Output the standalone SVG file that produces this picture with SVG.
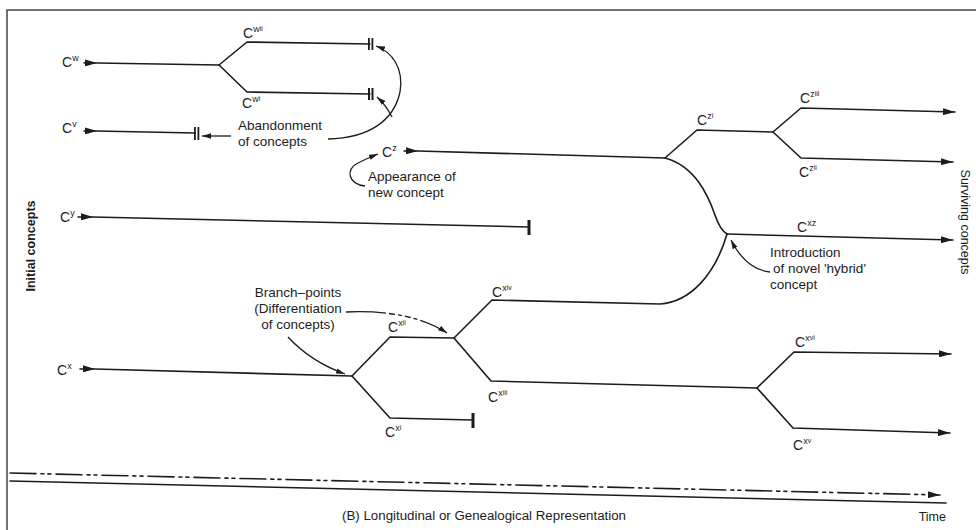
<svg xmlns="http://www.w3.org/2000/svg" width="976" height="530" viewBox="0 0 976 530">
<style>
.ln{fill:none;stroke:#1c1c1c;stroke-width:1.6;stroke-linejoin:round;stroke-linecap:round}
.thin{fill:none;stroke:#1c1c1c;stroke-width:1.3}
.lbl{font-family:"Liberation Sans",Arial,sans-serif;font-size:14px;fill:#1c1c1c}
.sup{font-size:9px}
.sup2{font-size:7px}
.ann{font-family:"Liberation Sans",Arial,sans-serif;font-size:13.5px;fill:#1c1c1c}
.axis{font-family:"Liberation Sans",Arial,sans-serif;font-size:12.5px;fill:#1c1c1c}
.bar{fill:#1c1c1c}
</style>
<defs>
<marker id="arr" viewBox="0 0 12 7" refX="12" refY="3.5" markerWidth="12" markerHeight="7" markerUnits="userSpaceOnUse" orient="auto">
<path d="M0,0 L12,3.5 L0,7 Z" fill="#1c1c1c"/>
</marker>
<marker id="arrs" viewBox="0 0 10 6" refX="10" refY="3" markerWidth="9" markerHeight="6" markerUnits="userSpaceOnUse" orient="auto">
<path d="M0,0 L10,3 L0,6 Z" fill="#1c1c1c"/>
</marker>
</defs>
<rect width="976" height="530" fill="#fff"/>
<path d="M7,530 V10 H976" fill="none" stroke="#444" stroke-width="1.5"/>

<g id="connectors">
<path class="ln" d="M84,63 L97,63 L219,65" marker-mid="url(#arr)"/>
<path class="ln" d="M219,65 L247,42 L370,44"/>
<path class="ln" d="M219,65 L247,92 L370,94"/>
<rect class="bar" x="368" y="38" width="1.8" height="12"/>
<rect class="bar" x="371.5" y="38" width="1.8" height="12"/>
<rect class="bar" x="368" y="88" width="2" height="12"/>
<rect class="bar" x="371.5" y="88" width="2" height="12"/>
<path class="ln" d="M84,131 L97,131 L195,133" marker-mid="url(#arr)"/>
<rect class="bar" x="194" y="127" width="1.8" height="13"/>
<rect class="bar" x="197.5" y="127" width="1.8" height="13"/>
<path class="thin" d="M231,136 L202,136" marker-end="url(#arrs)"/>
<path class="thin" d="M328,139 C370,138 394,120 400,92 C404,68 392,52 376,46" marker-end="url(#arrs)"/>
<path class="thin" d="M392,117 Q386,105 377,97" marker-end="url(#arrs)"/>
<path class="ln" d="M404,151 L418,151 L665,158" marker-mid="url(#arr)"/>
<path class="thin" d="M365,186 C348,184 345,169 358,163 Q368,158 378,154" marker-end="url(#arrs)"/>
<path class="ln" d="M665,158 L697,130 L773,132 L801,108 L955,112" marker-end="url(#arr)"/>
<path class="ln" d="M773,132 L801,158 L953,162" marker-end="url(#arr)"/>
<path class="ln" d="M665,158 C695,166 708,195 715,215 Q720,230 727,234"/>
<path class="ln" d="M727,234 L953,240" marker-end="url(#arr)"/>
<path class="thin" d="M770,272 C752,270 740,258 731,240" marker-end="url(#arrs)"/>
<path class="ln" d="M78,217 L93,217 L529,227" marker-mid="url(#arr)"/>
<rect class="bar" x="527.5" y="220" width="3" height="15"/>
<path class="ln" d="M80,369 L95,369 L352,376" marker-mid="url(#arr)"/>
<path class="ln" d="M352,376 L390,337 L454,338"/>
<path class="ln" d="M352,376 L390,418 L473,420"/>
<rect class="bar" x="471.5" y="413" width="3" height="15"/>
<path class="ln" d="M454,338 L492,300 L660,304 C690,302 715,275 727,234"/>
<path class="ln" d="M454,338 L491,381 L757,388"/>
<path class="ln" d="M757,388 L794,352 L951,354" marker-end="url(#arr)"/>
<path class="ln" d="M757,388 L793,428 L950,433" marker-end="url(#arr)"/>
<path class="thin" d="M288,337 C300,350 320,365 345,374" marker-end="url(#arrs)"/>
<path class="thin" d="M346,312 C390,310 425,318 447,333" stroke-dasharray="40 3 6 3 4 3 6 3 4 3" marker-end="url(#arrs)"/>
<path class="ln" d="M10,473 L940,495" stroke-dasharray="26 5 3 4 3 5" marker-end="url(#arr)"/>
<path class="ln" d="M10,481 L946,503"/>
</g>

<g id="node-cw"><text class="lbl" x="62" y="67">C<tspan class="sup" dy="-6">w</tspan></text></g>
<g id="node-cwii"><text class="lbl" x="243" y="38">C<tspan class="sup" dy="-6">w</tspan><tspan class="sup2" dy="-1">ii</tspan></text></g>
<g id="node-cwi"><text class="lbl" x="242" y="108">C<tspan class="sup" dy="-6">w</tspan><tspan class="sup2" dy="-1">i</tspan></text></g>
<g id="node-cv"><text class="lbl" x="62" y="133">C<tspan class="sup" dy="-6">v</tspan></text></g>
<g id="node-cz"><text class="lbl" x="382" y="157">C<tspan class="sup" dy="-6">z</tspan></text></g>
<g id="node-czi"><text class="lbl" x="697" y="125">C<tspan class="sup" dy="-6">z</tspan><tspan class="sup2" dy="-1">i</tspan></text></g>
<g id="node-cziii"><text class="lbl" x="800" y="103">C<tspan class="sup" dy="-6">z</tspan><tspan class="sup2" dy="-1">iii</tspan></text></g>
<g id="node-czii"><text class="lbl" x="799" y="177">C<tspan class="sup" dy="-6">z</tspan><tspan class="sup2" dy="-1">ii</tspan></text></g>
<g id="node-cxz"><text class="lbl" x="797" y="232">C<tspan class="sup" dy="-6">xz</tspan></text></g>
<g id="node-cy"><text class="lbl" x="60" y="222">C<tspan class="sup" dy="-6">y</tspan></text></g>
<g id="node-cx"><text class="lbl" x="57" y="375">C<tspan class="sup" dy="-6">x</tspan></text></g>
<g id="node-cxii"><text class="lbl" x="388" y="332">C<tspan class="sup" dy="-6">x</tspan><tspan class="sup2" dy="-1">ii</tspan></text></g>
<g id="node-cxi"><text class="lbl" x="385" y="437">C<tspan class="sup" dy="-6">x</tspan><tspan class="sup2" dy="-1">i</tspan></text></g>
<g id="node-cxiv"><text class="lbl" x="492" y="297">C<tspan class="sup" dy="-6">x</tspan><tspan class="sup2" dy="-1">iv</tspan></text></g>
<g id="node-cxiii"><text class="lbl" x="488" y="402">C<tspan class="sup" dy="-6">x</tspan><tspan class="sup2" dy="-1">iii</tspan></text></g>
<g id="node-cxvi"><text class="lbl" x="795" y="347">C<tspan class="sup" dy="-6">x</tspan><tspan class="sup2" dy="-1">vi</tspan></text></g>
<g id="node-cxv"><text class="lbl" x="793" y="450">C<tspan class="sup" dy="-6">x</tspan><tspan class="sup2" dy="-1">v</tspan></text></g>

<g id="note-abandonment">
<text class="ann" x="238" y="130">Abandonment</text>
<text class="ann" x="238" y="146">of concepts</text>
</g>
<g id="note-appearance">
<text class="ann" x="368" y="181">Appearance of</text>
<text class="ann" x="368" y="197">new concept</text>
</g>
<g id="note-hybrid">
<text class="ann" x="770" y="257">Introduction</text>
<text class="ann" x="773" y="273">of novel 'hybrid'</text>
<text class="ann" x="770" y="289">concept</text>
</g>
<g id="note-branch">
<text class="ann" x="298" y="297" text-anchor="middle">Branch–points</text>
<text class="ann" x="298" y="313" text-anchor="middle">(Differentiation</text>
<text class="ann" x="298" y="329" text-anchor="middle">of concepts)</text>
</g>
<g id="side-labels">
<text class="axis" transform="translate(35,246) rotate(-90)" text-anchor="middle" font-weight="bold">Initial concepts</text>
<text class="axis" transform="translate(961,222) rotate(90)" text-anchor="middle" font-size="13">Surviving concepts</text>
</g>
<g id="caption">
<text class="axis" x="342" y="520" textLength="284" lengthAdjust="spacingAndGlyphs">(B) Longitudinal or Genealogical Representation</text>
<text class="axis" x="946" y="521" text-anchor="end">Time</text>
</g>
</svg>
